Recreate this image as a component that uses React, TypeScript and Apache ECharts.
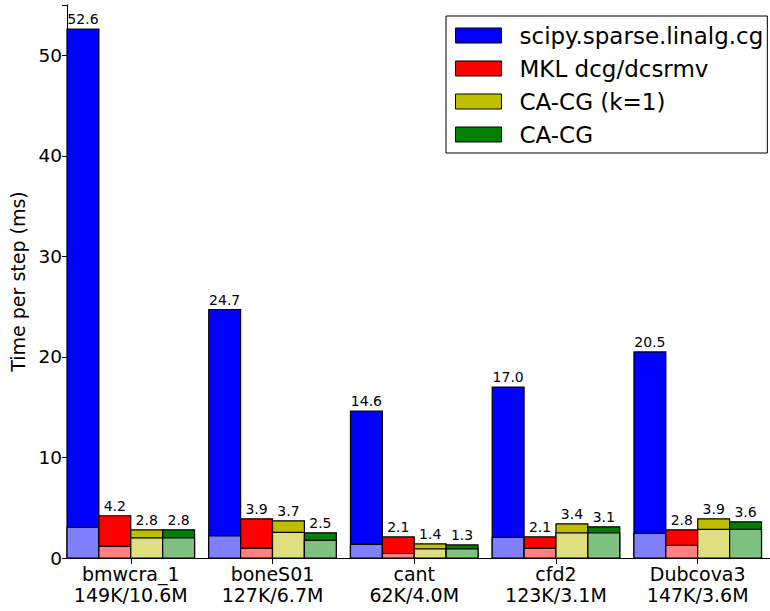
import React, { useEffect, useRef } from "react";
import * as echarts from "echarts";

const categories = ["bmwcra_1", "boneS01", "cant", "cfd2", "Dubcova3"];
const sizes = ["149K/10.6M", "127K/6.7M", "62K/4.0M", "123K/3.1M", "147K/3.6M"];
const methods = ["scipy.sparse.linalg.cg", "MKL dcg/dcsrmv", "CA-CG (k=1)", "CA-CG"];
const scipyTotal = [52.6, 24.7, 14.6, 17.0, 20.5];
const scipyLower = [3.05, 2.2, 1.35, 2.05, 2.45];
const mklTotal = [4.2, 3.9, 2.1, 2.1, 2.8];
const mklLower = [1.15, 0.95, 0.45, 0.95, 1.25];
const cacg1Total = [2.8, 3.7, 1.4, 3.4, 3.9];
const cacg1Lower = [2.0, 2.55, 0.9, 2.5, 2.85];
const cacgTotal = [2.8, 2.5, 1.3, 3.1, 3.6];
const cacgLower = [2.0, 1.75, 0.9, 2.5, 2.85];
const yTicks = [0, 10, 20, 30, 40, 50];

const darkColors = ["#0000ff", "#ff0000", "#bfbf00", "#008000"];
const lightColors = ["#8080ff", "#ff8080", "#dfdf80", "#80c080"];

const FONT = "DejaVu Sans";
const BAR_W = 0.225;
const GROUP_CENTER = 0.45;

export default function App() {
  const ref = useRef<HTMLDivElement>(null);
  useEffect(() => {
    if (!ref.current) return;
    const chart = echarts.init(ref.current, null, { renderer: "svg" });
    const totals = [scipyTotal, mklTotal, cacg1Total, cacgTotal];
    const lowers = [scipyLower, mklLower, cacg1Lower, cacgLower];
    const groupTicks = categories.map((_, i) => i + GROUP_CENTER);

    const series = methods.map((name, k) => ({
      type: "custom",
      name,
      itemStyle: { color: darkColors[k], borderColor: "#000", borderWidth: 1 },
      clip: false,
      data: categories.map((_, i) => [i + BAR_W / 2 + k * BAR_W, totals[k][i], lowers[k][i]]),
      encode: { x: 0, y: 1 },
      renderItem: (params: any, api: any) => {
        const xc = api.value(0);
        const total = api.value(1);
        const lower = api.value(2);
        const top = api.coord([xc, total]);
        const low = api.coord([xc, lower]);
        const base = api.coord([xc, 0]);
        const w = api.size([BAR_W, 0])[0];
        const x0 = top[0] - w / 2;
        return {
          type: "group",
          children: [
            {
              type: "rect",
              shape: { x: x0, y: top[1], width: w, height: base[1] - top[1] },
              style: { fill: darkColors[k], stroke: "#000", lineWidth: 1.2 },
            },
            {
              type: "rect",
              shape: { x: x0, y: low[1], width: w, height: base[1] - low[1] },
              style: { fill: lightColors[k], stroke: "#000", lineWidth: 1.2 },
            },
            {
              type: "text",
              x: top[0],
              y: top[1] - 3,
              style: {
                text: total.toFixed(1),
                fontFamily: FONT,
                fontSize: 14,
                fill: "#000",
                align: "center",
                verticalAlign: "bottom",
              },
            },
          ],
        };
      },
    }));

    chart.setOption({
      animation: false,
      textStyle: { fontFamily: FONT },
      grid: { left: 66, right: -5, top: 5, bottom: 53 },
      legend: {
        left: 446,
        top: 16,
        orient: "vertical",
        data: methods.map((m) => ({ name: m, icon: "rect" })),
        itemWidth: 46,
        itemHeight: 15,
        itemGap: 10,
        padding: [8, 4, 7, 9],
        borderColor: "#000",
        borderWidth: 1,
        backgroundColor: "#fff",
        itemStyle: { borderColor: "#000", borderWidth: 1 },
        textStyle: {
          fontFamily: FONT,
          fontSize: 23,
          color: "#000",
          lineHeight: 23,
          padding: [0, 0, 0, 13],
        },
      },
      xAxis: [
        {
          type: "value",
          min: 0,
          max: 4.96,
          position: "bottom",
          splitLine: { show: false },
          axisLine: { show: true, lineStyle: { color: "#000", width: 1 } },
          axisTick: {
            show: true,
            inside: true,
            length: 6,
            customValues: groupTicks,
            lineStyle: { color: "#000" },
          },
          axisLabel: {
            customValues: groupTicks,
            fontFamily: FONT,
            fontSize: 19,
            color: "#000",
            lineHeight: 21,
            margin: 5,
            formatter: (v: number) => {
              const i = Math.round(v - GROUP_CENTER);
              return `${categories[i]}\n${sizes[i]}`;
            },
          },
        },
        {
          type: "value",
          min: 0,
          max: 4.96,
          position: "top",
          splitLine: { show: false },
          axisLine: { show: true, lineStyle: { color: "#000", width: 1 } },
          axisTick: {
            show: true,
            inside: true,
            length: 6,
            customValues: groupTicks,
            lineStyle: { color: "#000" },
          },
          axisLabel: { show: false },
        },
      ],
      yAxis: [
        {
          type: "value",
          min: 0,
          max: 55,
          interval: 10,
          name: "Time per step (ms)",
          nameLocation: "middle",
          nameGap: 40,
          nameTextStyle: { fontFamily: FONT, fontSize: 19, color: "#000" },
          splitLine: { show: false },
          axisLine: { show: true, lineStyle: { color: "#000", width: 1 } },
          axisTick: { show: true, inside: true, length: 5, customValues: yTicks, lineStyle: { color: "#000" } },
          axisLabel: { fontFamily: FONT, fontSize: 18.5, color: "#000", margin: 5, customValues: yTicks },
        },
        {
          type: "value",
          min: 0,
          max: 55,
          interval: 10,
          position: "right",
          splitLine: { show: false },
          axisLine: { show: true, lineStyle: { color: "#000", width: 1 } },
          axisTick: { show: true, inside: true, length: 5, lineStyle: { color: "#000" } },
          axisLabel: { show: false },
        },
      ],
      series,
    });
    return () => chart.dispose();
  }, []);
  return <div ref={ref} style={{ width: 770, height: 611, position: "absolute", left: 0, top: 0 }} />;
}
